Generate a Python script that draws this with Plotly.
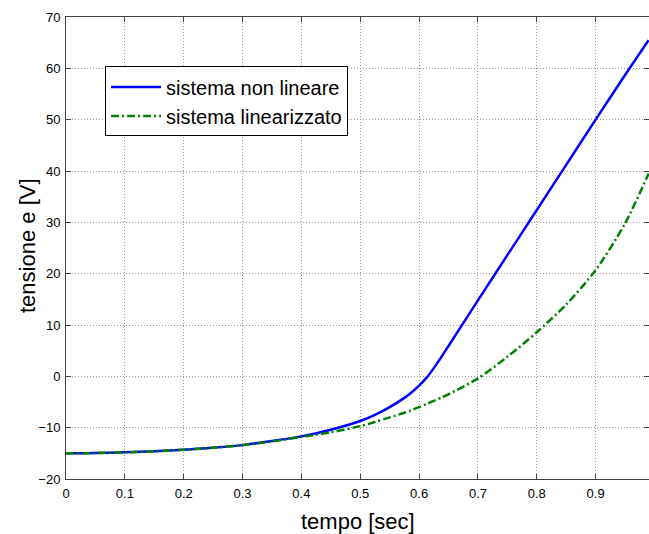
import plotly.graph_objects as go

# time samples [sec]
tempo = [0.0, 0.05, 0.1, 0.15, 0.2, 0.25, 0.3, 0.35, 0.4, 0.45, 0.5, 0.525, 0.55,
         0.575, 0.5875, 0.6, 0.6125, 0.625, 0.6375, 0.65, 0.7, 0.75, 0.8, 0.85, 0.9, 0.95, 0.99]

# non-linear system voltage [V]
non_lineare = [-15.0, -14.95, -14.8, -14.6, -14.3, -13.9, -13.4, -12.6, -11.7, -10.4,
               -8.7, -7.5, -6.0, -4.2, -3.1, -1.8, -0.3, 1.6, 3.7, 5.9,
               14.8, 23.6, 32.4, 41.2, 50.0, 58.7, 65.5]

# linearized system voltage [V]
linearizzato = [-15.0, -14.95, -14.8, -14.6, -14.3, -13.9, -13.4, -12.7, -11.8, -10.9,
                -9.7, -8.9, -8.0, -7.1, -6.55, -6.0, -5.4, -4.8, -4.15, -3.5,
                -0.4, 3.8, 8.6, 14.0, 20.7, 29.8, 39.5]

x_ticks = [0, 0.1, 0.2, 0.3, 0.4, 0.5, 0.6, 0.7, 0.8, 0.9]
x_ticklabels = ["0", "0.1", "0.2", "0.3", "0.4", "0.5", "0.6", "0.7", "0.8", "0.9"]
y_ticks = [-20, -10, 0, 10, 20, 30, 40, 50, 60, 70]

font_family = "Liberation Sans, Arial, sans-serif"

fig = go.Figure()
fig.add_trace(go.Scatter(
    x=tempo, y=non_lineare, mode="lines", name="sistema non lineare",
    line=dict(color="#0000ff", width=2.5, shape="spline", smoothing=0.8),
))
fig.add_trace(go.Scatter(
    x=tempo, y=linearizzato, mode="lines", name="sistema linearizzato",
    line=dict(color="#008000", width=2.5, dash="8px,3px,2px,3px", shape="spline", smoothing=0.8),
))

axis_common = dict(
    showline=True, linecolor="#404040", linewidth=1, mirror="ticks",
    ticks="inside", ticklen=5, tickcolor="#404040",
    showgrid=True, gridcolor="#9a9a9a", griddash="1px,2px", gridwidth=1,
    zeroline=False,
    tickfont=dict(family=font_family, size=13, color="#000000"),
)

fig.update_layout(
    width=649, height=534,
    margin=dict(l=66, r=0, t=17, b=55),
    paper_bgcolor="white", plot_bgcolor="white",
    font=dict(family=font_family, color="#000000"),
    xaxis=dict(
        range=[0, 0.9907], tickvals=x_ticks, ticktext=x_ticklabels,
        ticklabelstandoff=2,
        **axis_common,
    ),
    yaxis=dict(
        range=[-20, 70], tickvals=y_ticks,
        ticklabelstandoff=2,
        **axis_common,
    ),
    legend=dict(
        x=0.067, y=0.893, xanchor="left", yanchor="top",
        bgcolor="white", bordercolor="#000000", borderwidth=1,
        font=dict(family=font_family, size=20, color="#000000"),
        tracegroupgap=0, itemwidth=50,
    ),
    showlegend=True,
    annotations=[
        dict(text="tempo [sec]", xref="paper", yref="paper", x=0.5, y=0,
             xanchor="center", yanchor="middle", yshift=-42, showarrow=False,
             font=dict(family=font_family, size=22, color="#000000")),
        dict(text="tensione e [V]", xref="paper", yref="paper", x=0, y=0.5,
             xanchor="center", yanchor="middle", xshift=-39, yshift=2, textangle=-90,
             showarrow=False, font=dict(family=font_family, size=22, color="#000000")),
    ],
)

fig.write_html("out.html", config={"displayModeBar": False},
               post_script="document.body.style.margin='0px';")
